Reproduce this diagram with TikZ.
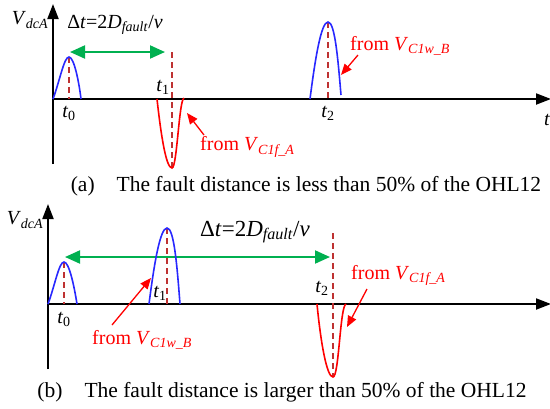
\documentclass[tikz,border=0pt]{standalone}
\usepackage{fontspec}
\setmainfont{Liberation Serif}
\usepackage{xcolor}
\usepackage{tikz}
\usetikzlibrary{arrows.meta, positioning, calc}
\definecolor{pblue}{RGB}{40,40,255}
\definecolor{dgreen}{RGB}{0,176,80}
\definecolor{dred}{RGB}{190,50,50}

\begin{document}
\begin{tikzpicture}[x=1pt, y=-1pt,
    axis/.style={line width=2pt, -{Triangle[length=15pt,width=11pt]}},
    bluepulse/.style={pblue, line width=1.6pt},
    redpulse/.style={red, line width=1.6pt},
    tline/.style={dred, line width=1.1pt, dash pattern=on 6pt off 4pt},
    gap/.style={dgreen, line width=2pt, {Triangle[length=15pt,width=13pt]}-{Triangle[length=15pt,width=13pt]}},
    ptr/.style={red, line width=1.3pt, -{Triangle[length=11pt,width=9pt]}},
    txt/.style={inner sep=0pt, font=\fontsize{20}{22}\selectfont},
    rtxt/.style={txt, text=red},
    captext/.style={inner sep=0pt, font=\fontsize{21.5}{24}\selectfont}
]
    \useasboundingbox (0,0) rectangle (550,408);

    % (a)
    \coordinate (ya0) at (53,164);
    \coordinate (ya1) at (53,4);
    \coordinate (xa0) at (53,99);
    \coordinate (xa1) at (551,99);
    \draw[axis] (ya0) -- (ya1);
    \draw[axis] (xa0) -- (xa1);
    \node[txt] (vdca) at (30,20) {\textit{V}\textsubscript{\textit{dcA}}};
    \node[txt] (ta) at (547,120) {\textit{t}};

    \coordinate (pa0) at (69,57);
    \coordinate (pa1) at (172,168);
    \coordinate (pa2) at (328,22);
    \draw[tline] (pa0) -- (69,99);
    \draw[tline] (172,52) -- (pa1);
    \draw[tline] (pa2) -- (328,99);
    \draw[bluepulse] (53,99) .. controls (60,80) and (64,57) .. (pa0)
        .. controls (74,57) and (79,82) .. (81,99);
    \draw[redpulse] (157,99) .. controls (161,135) and (166,168) .. (pa1)
        .. controls (177,168) and (179,100) .. (184,98);
    \draw[bluepulse] (310,99) .. controls (315,60) and (321,22) .. (pa2)
        .. controls (335,22) and (338,60) .. (341,95);

    \node[txt] (t0a) at (69,113) {\textit{t}\textsubscript{0}};
    \node[txt] (t1a) at (163,87) {\textit{t}\textsubscript{1}};
    \node[txt] (t2a) at (328,113) {\textit{t}\textsubscript{2}};

    \coordinate (ga0) at (70,52);
    \coordinate (ga1) at (165,52);
    \draw[gap] (ga0) -- (ga1);
    \node[txt] (dta) at (115,25) {Δ\textit{t}=2\textit{D}\textsubscript{\textit{fault}}/\textit{v}};

    \node[rtxt, anchor=west] (fa1) at (200,147) {from \textit{V}\textsubscript{\textit{C1f\_A}}};
    \node[rtxt, anchor=west] (fa2) at (350,46) {from \textit{V}\textsubscript{\textit{C1w\_B}}};
    \coordinate (ha1) at (187,113);
    \coordinate (ha2) at (341,75);
    \draw[ptr] (204,135) -- (ha1);
    \draw[ptr] (358,55) -- (ha2);

    \node[captext] (capa) at (306,186) {(a)\hspace{22pt}The fault distance is less than 50\% of the OHL12};

    % (b)
    \coordinate (yb0) at (48,369);
    \coordinate (yb1) at (48,204);
    \coordinate (xb0) at (48,304);
    \coordinate (xb1) at (551,304);
    \draw[axis] (yb0) -- (yb1);
    \draw[axis] (xb0) -- (xb1);
    \node[txt] (vdcb) at (25,220) {\textit{V}\textsubscript{\textit{dcA}}};

    \coordinate (gb0) at (65,257);
    \coordinate (gb1) at (330,257);
    \draw[gap] (gb0) -- (gb1);
    \node[txt, font=\fontsize{23}{25}\selectfont] (dtb) at (255,232) {Δ\textit{t}=2\textit{D}\textsubscript{\textit{fault}}/\textit{v}};

    \coordinate (pb0) at (64,262);
    \coordinate (pb1) at (167,228);
    \coordinate (pb2) at (333,377);
    \draw[tline] (pb0) -- (64,304);
    \draw[tline] (pb1) -- (167,304);
    \draw[tline] (333,233) -- (pb2);
    \draw[bluepulse] (48,304) .. controls (55,285) and (59,262) .. (pb0)
        .. controls (69,262) and (74,285) .. (77,304);
    \draw[bluepulse] (149,304) .. controls (154,265) and (160,228) .. (pb1)
        .. controls (174,228) and (177,265) .. (180,304);
    \draw[redpulse] (317,304) .. controls (321,345) and (327,377) .. (pb2)
        .. controls (339,377) and (340,306) .. (346,304);

    \node[txt] (t0b) at (64,319) {\textit{t}\textsubscript{0}};
    \node[txt] (t1b) at (160,293) {\textit{t}\textsubscript{1}};
    \node[txt] (t2b) at (322,288) {\textit{t}\textsubscript{2}};

    \node[rtxt, anchor=west] (fb1) at (92,340) {from \textit{V}\textsubscript{\textit{C1w\_B}}};
    \node[rtxt, anchor=west] (fb2) at (351,275) {from \textit{V}\textsubscript{\textit{C1f\_A}}};
    \coordinate (hb1) at (151,278);
    \coordinate (hb2) at (347,327);
    \draw[ptr] (112,325) -- (hb1);
    \draw[ptr] (367,289) -- (hb2);

    \node[captext] (capb) at (282,392) {(b)\hspace{22pt}The fault distance is larger than 50\% of the OHL12};
\end{tikzpicture}
\end{document}
